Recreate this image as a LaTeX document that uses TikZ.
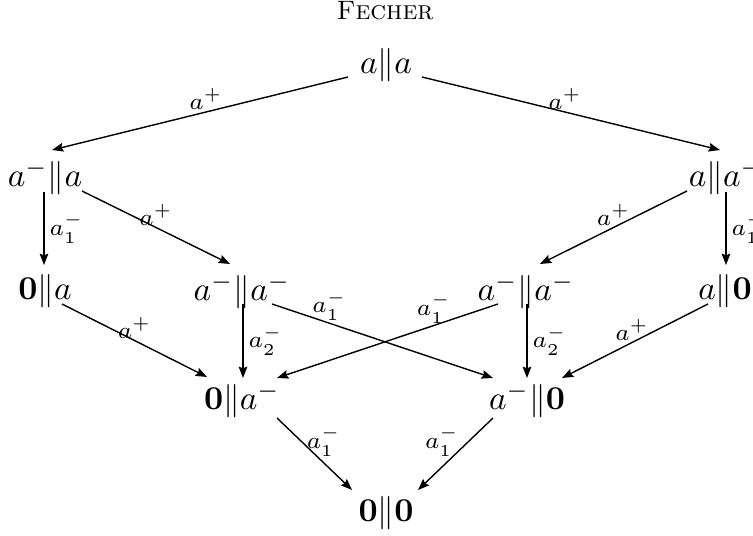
\documentclass[tikz,border=0pt]{standalone}
\usetikzlibrary{arrows.meta,calc}
\begin{document}
\begin{tikzpicture}[x=0.3pt,y=-0.3pt,
  st/.style={inner sep=0pt, font=\normalsize},
  ar/.style={-{Stealth[length=3.4pt,width=2.6pt,inset=0.5pt]}, line width=0.42pt},
  lb/.style={font=\scriptsize, inner sep=0.5pt},
]
\useasboundingbox (0,0) rectangle (753,536);
\node[font=\footnotesize] (title) at (385,11) {\textsc{Fecher}};
\node[st] (aa)  at (386,65)  {$a\|a$};
\node[st] (ama) at (45,177)  {$a^-\|a$};
\node[st] (aam) at (726,177) {$a\|a^-$};
\node[st] (zA)  at (45,291)  {$\mathbf{0}\|a$};
\node[st] (L)   at (242,291) {$a^-\|a^-$};
\node[st] (R)   at (526,291) {$a^-\|a^-$};
\node[st] (az)  at (725,291) {$a\|\mathbf{0}$};
\node[st] (zam) at (242,400) {$\mathbf{0}\|a^-$};
\node[st] (amz) at (527,400) {$a^-\|\mathbf{0}$};
\node[st] (zz)  at (386,513) {$\mathbf{0}\|\mathbf{0}$};

\draw[ar] ($(aa)+(-38,12)$) -- node[lb,pos=0.48,above]{$a^+$} ($(ama)+(7,-27)$);
\draw[ar] ($(aa)+(36,12)$) -- node[lb,pos=0.48,above]{$a^+$} ($(aam)+(-6,-27)$);
\draw[ar] ($(ama)+(-1,15)$) -- node[lb,pos=0.5,right=1pt]{$a_1^-$} ($(zA)+(-1,-26)$);
\draw[ar] ($(ama)+(37,14)$) -- node[lb,pos=0.5,above]{$a^+$} ($(L)+(-12,-27)$);
\draw[ar] ($(aam)+(-39,14)$) -- node[lb,pos=0.5,above]{$a^+$} ($(R)+(14,-27)$);
\draw[ar] ($(aam)+(0,15)$) -- node[lb,pos=0.5,right=1pt]{$a_1^-$} ($(az)+(1,-26)$);
\draw[ar] ($(zA)+(17,13)$) -- node[lb,pos=0.5,above]{$a^+$} ($(zam)+(-35,-23)$);
\draw[ar] ($(L)+(1,13)$) -- node[lb,pos=0.5,right=1pt]{$a_2^-$} ($(zam)+(1,-22)$);
\draw[ar] ($(L)+(30,13)$) -- node[lb,pos=0.26,above]{$a_1^-$} ($(amz)+(-34,-22)$);
\draw[ar] ($(R)+(-28,13)$) -- node[lb,pos=0.29,above]{$a_1^-$} ($(zam)+(35,-22)$);
\draw[ar] ($(R)+(1,13)$) -- node[lb,pos=0.5,right=1pt]{$a_2^-$} ($(amz)+(0,-22)$);
\draw[ar] ($(az)+(-17,13)$) -- node[lb,pos=0.52,above]{$a^+$} ($(amz)+(35,-22)$);
\draw[ar] ($(zam)+(35,18)$) -- node[lb,pos=0.33,right=0.8pt]{$a_1^-$} ($(zz)+(-34,-23)$);
\draw[ar] ($(amz)+(-34,18)$) -- node[lb,pos=0.33,left=2pt]{$a_1^-$} ($(zz)+(32,-23)$);
\end{tikzpicture}
\end{document}
